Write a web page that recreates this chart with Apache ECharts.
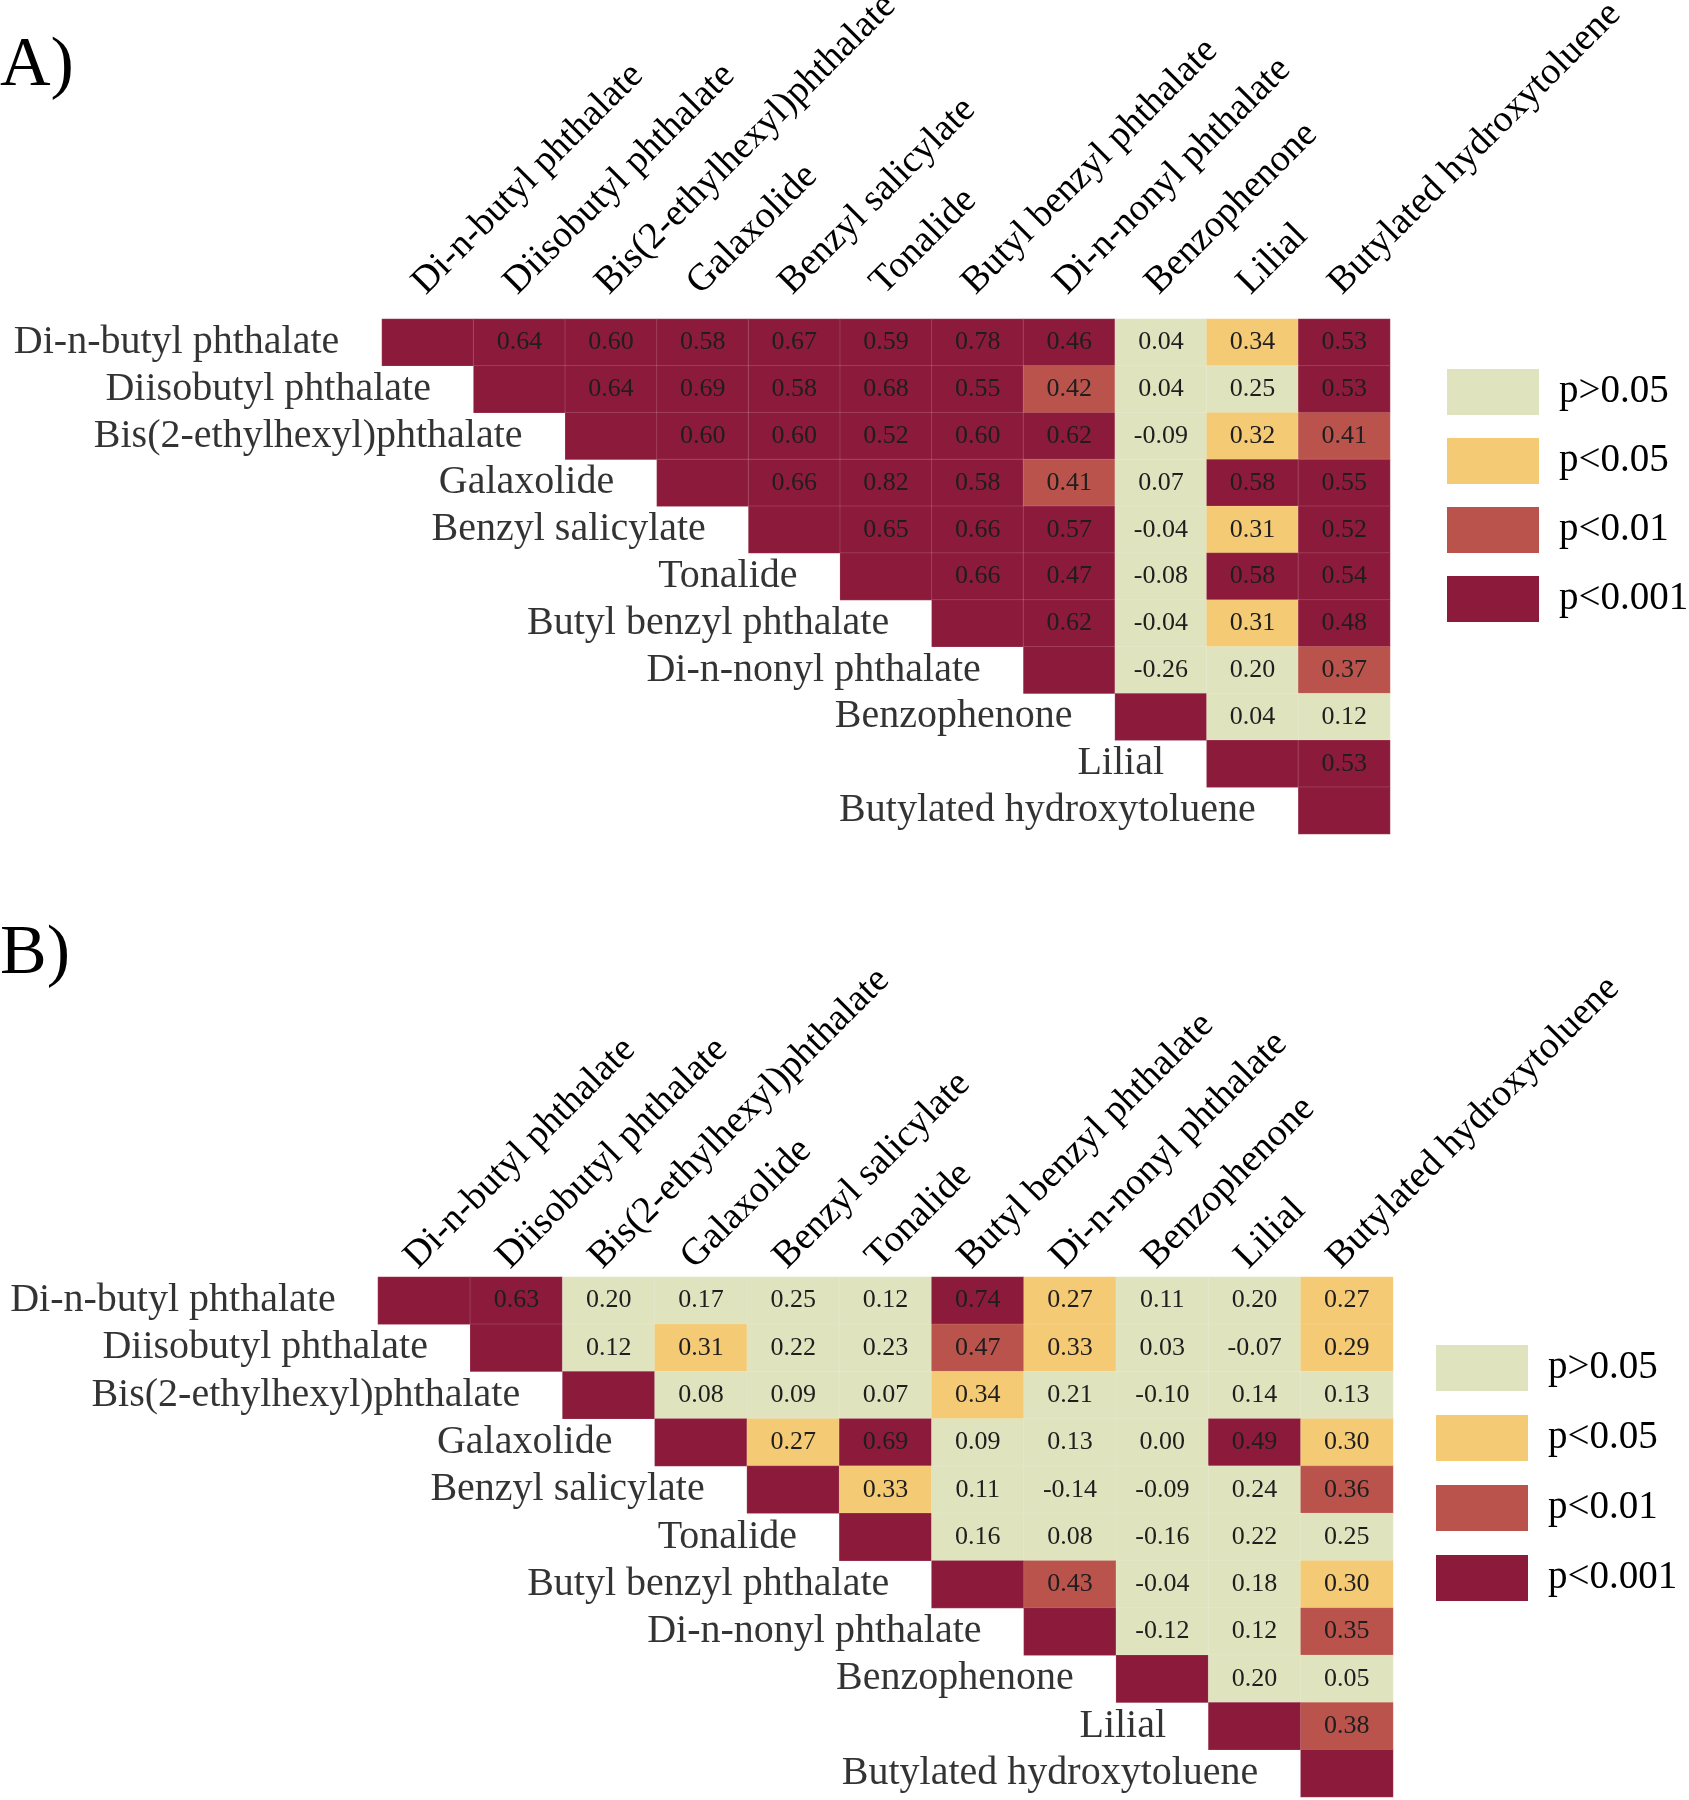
<!DOCTYPE html>
<html><head><meta charset="utf-8">
<script src="https://cdn.jsdelivr.net/npm/echarts@6/dist/echarts.min.js"></script>
<style>html,body{margin:0;padding:0;background:#fff}#c{width:1689px;height:1800px}</style>
</head><body><div id="c"></div>
<script>
// ---------- data ----------
const compounds = [
  'Di-n-butyl phthalate', 'Diisobutyl phthalate', 'Bis(2-ethylhexyl)phthalate',
  'Galaxolide', 'Benzyl salicylate', 'Tonalide', 'Butyl benzyl phthalate',
  'Di-n-nonyl phthalate', 'Benzophenone', 'Lilial', 'Butylated hydroxytoluene'
];
const sigLabels = ['p>0.05', 'p<0.05', 'p<0.01', 'p<0.001'];

// Panel A: correlation coefficients (upper triangle, row i -> columns i+1..)
const rA = [
  [0.64, 0.60, 0.58, 0.67, 0.59, 0.78, 0.46, 0.04, 0.34, 0.53],
  [0.64, 0.69, 0.58, 0.68, 0.55, 0.42, 0.04, 0.25, 0.53],
  [0.60, 0.60, 0.52, 0.60, 0.62, -0.09, 0.32, 0.41],
  [0.66, 0.82, 0.58, 0.41, 0.07, 0.58, 0.55],
  [0.65, 0.66, 0.57, -0.04, 0.31, 0.52],
  [0.66, 0.47, -0.08, 0.58, 0.54],
  [0.62, -0.04, 0.31, 0.48],
  [-0.26, 0.20, 0.37],
  [0.04, 0.12],
  [0.53],
  []
];
// Panel A: significance class (0: p>0.05, 1: p<0.05, 2: p<0.01, 3: p<0.001)
const pA = [
  [3, 3, 3, 3, 3, 3, 3, 0, 1, 3],
  [3, 3, 3, 3, 3, 2, 0, 0, 3],
  [3, 3, 3, 3, 3, 0, 1, 2],
  [3, 3, 3, 2, 0, 3, 3],
  [3, 3, 3, 0, 1, 3],
  [3, 3, 0, 3, 3],
  [3, 0, 1, 3],
  [0, 0, 2],
  [0, 0],
  [3],
  []
];
// Panel B
const rB = [
  [0.63, 0.20, 0.17, 0.25, 0.12, 0.74, 0.27, 0.11, 0.20, 0.27],
  [0.12, 0.31, 0.22, 0.23, 0.47, 0.33, 0.03, -0.07, 0.29],
  [0.08, 0.09, 0.07, 0.34, 0.21, -0.10, 0.14, 0.13],
  [0.27, 0.69, 0.09, 0.13, 0.00, 0.49, 0.30],
  [0.33, 0.11, -0.14, -0.09, 0.24, 0.36],
  [0.16, 0.08, -0.16, 0.22, 0.25],
  [0.43, -0.04, 0.18, 0.30],
  [-0.12, 0.12, 0.35],
  [0.20, 0.05],
  [0.38],
  []
];
const pB = [
  [3, 0, 0, 0, 0, 3, 1, 0, 0, 1],
  [0, 1, 0, 0, 2, 1, 0, 0, 1],
  [0, 0, 0, 1, 0, 0, 0, 0],
  [1, 3, 0, 0, 0, 3, 1],
  [1, 0, 0, 0, 0, 2],
  [0, 0, 0, 0, 0],
  [2, 0, 0, 1],
  [0, 0, 2],
  [0, 0],
  [2],
  []
];

// ---------- style ----------
const FONT = "'Liberation Serif', 'Times New Roman', serif";
const SIG_COLORS = ['#dfe3be', '#f5ca74', '#b9534b', '#8c1a3b'];
const TEXT = '#000';

function cells(r, p) {
  const out = [];
  for (let i = 0; i < compounds.length; i++) {
    out.push([i, i, 1, 3]);
    for (let k = 0; k < r[i].length; k++) out.push([i + 1 + k, i, r[i][k], p[i][k]]);
  }
  return out;
}

const grids = [
  { left: 382, top: 319, width: 1008, height: 515, outerBoundsMode: 'none', containLabel: false },
  { left: 378, top: 1277, width: 1015, height: 520, outerBoundsMode: 'none', containLabel: false }
];
const colLabelMargin = [13, 1];
const colLabelPadLeft = [6, 0];
const legends = [
  { left: 1447, top: 369, itemGap: 23 },
  { left: 1436, top: 1345, itemGap: 24 }
];
const panels = [[rA, pA], [rB, pB]];

const option = {
  animation: false,
  backgroundColor: '#fff',
  title: [
    { text: 'A)', left: 0, top: 32, padding: 0, textStyle: { fontSize: 70, fontWeight: 'normal', fontFamily: FONT, color: TEXT } },
    { text: 'B)', left: 0, top: 920, padding: 0, textStyle: { fontSize: 70, fontWeight: 'normal', fontFamily: FONT, color: TEXT } }
  ],
  grid: grids,
  xAxis: grids.map((g, gi) => ({
    type: 'category', gridIndex: gi, data: compounds, position: 'top',
    axisLine: { show: false }, axisTick: { show: false }, splitLine: { show: false },
    axisLabel: {
      interval: 0, rotate: -45, align: 'left', verticalAlign: 'bottom',
      margin: colLabelMargin[gi], padding: [0, 0, 0, colLabelPadLeft[gi]], hideOverlap: false,
      fontSize: 38, fontFamily: FONT, color: TEXT
    }
  })),
  yAxis: grids.map((g, gi) => ({
    type: 'category', gridIndex: gi, data: compounds, inverse: true, show: false
  })),
  visualMap: legends.map((l, gi) => ({
    type: 'piecewise', seriesIndex: gi * 2, dimension: 3, orient: 'vertical', inverse: true,
    align: 'left', padding: 0,
    left: l.left, top: l.top, itemWidth: 92, itemHeight: 46, itemGap: l.itemGap, textGap: 20,
    itemSymbol: 'rect', selectedMode: false,
    pieces: sigLabels.map((lab, i) => ({ value: i, label: lab, color: SIG_COLORS[i] })),
    textStyle: { fontSize: 39, fontFamily: FONT, color: TEXT }
  })),
  series: []
};

panels.forEach(([r, p], gi) => {
  option.series.push({
    type: 'heatmap', xAxisIndex: gi, yAxisIndex: gi,
    data: cells(r, p),
    itemStyle: { borderColor: 'rgba(255,255,255,0.14)', borderWidth: 1 },
    label: {
      show: true, fontSize: 26, fontFamily: FONT, color: '#1e1e1e',
      formatter: (prm) => prm.value[0] === prm.value[1] ? '' : prm.value[2].toFixed(2)
    },
    emphasis: { disabled: true }
  });
  option.series.push({
    type: 'scatter', xAxisIndex: gi, yAxisIndex: gi, silent: true,
    symbolSize: 1, itemStyle: { color: 'rgba(0,0,0,0)' },
    data: compounds.map((c, i) => [i, i]),
    label: {
      show: true, position: 'left', distance: 88, fontSize: 40, fontFamily: FONT, color: TEXT,
      formatter: (prm) => compounds[prm.data[1]]
    }
  });
});

const chart = echarts.init(document.getElementById('c'), null, { renderer: 'canvas' });
chart.setOption(option);
</script>
</body></html>
